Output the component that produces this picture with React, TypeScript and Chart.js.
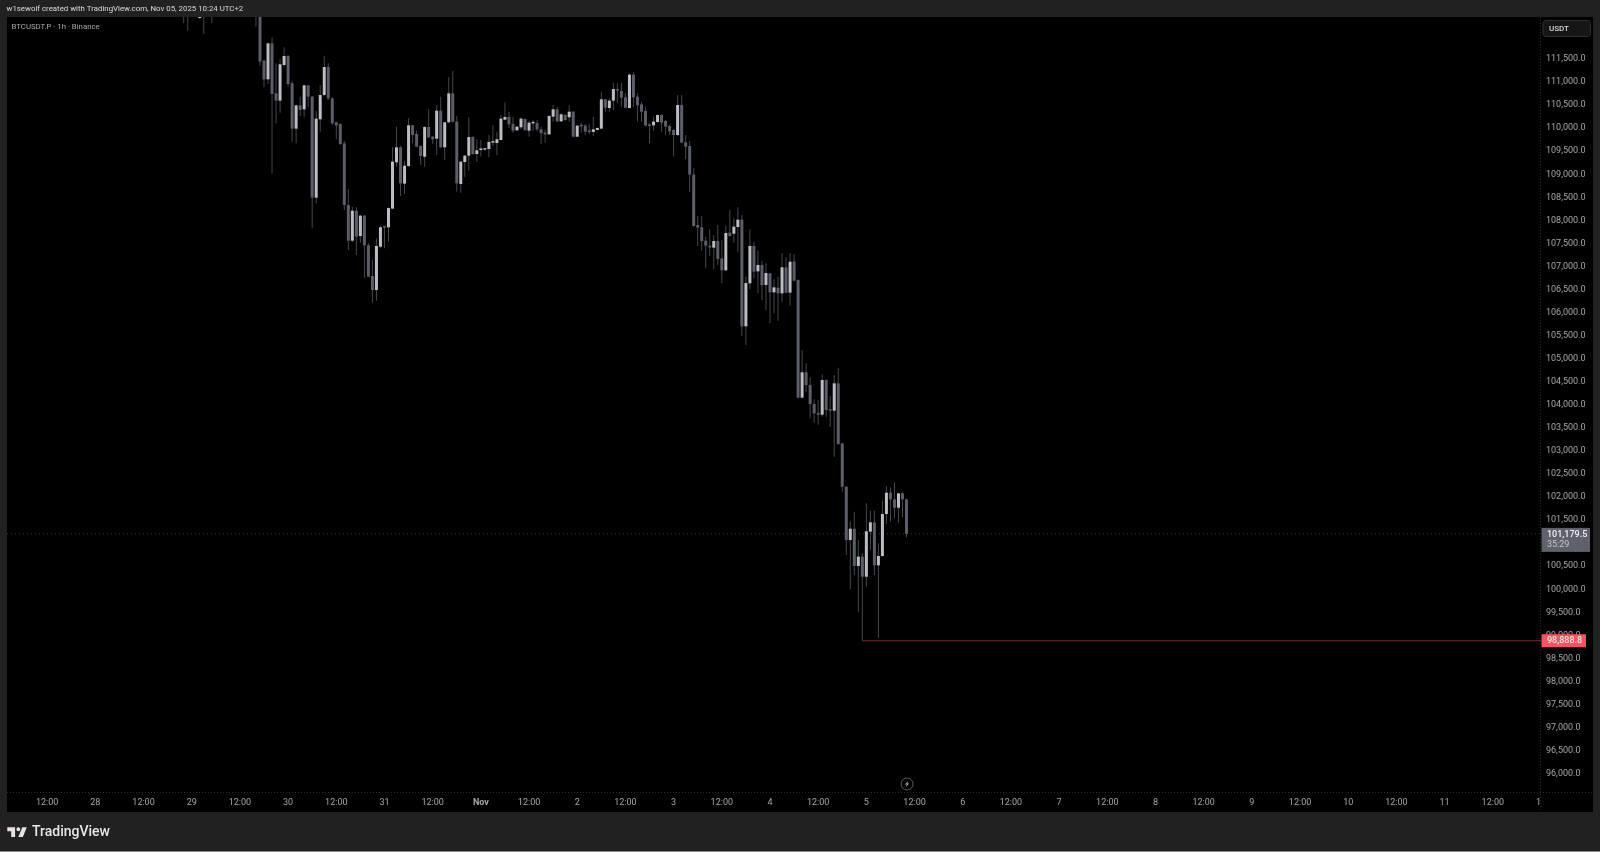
import React, { useEffect, useRef } from "react";
import { Chart, registerables } from "chart.js";

Chart.register(...registerables);

// hour index of the first candle; hour 0 = Oct 27 12:00
const firstHour = 34;

const opens = [
  112800,112650,112700,112620,112368,112750,112650,112780,112700,112800,112900,113000,112900,113050,113150,113050,113200,113100,113000,
  112800,111442,111037,111818,110734,110575,111348,111543,110951,109967,110473,110387,110907,110661,108471,110170,110698,111305,110625,110105,
  110069,109649,108312,107538,108189,107640,108081,107437,106772,106469,107408,107842,107828,108233,109237,109563,108775,109158,110040,109852,
  109592,109360,110004,109794,109751,110358,109563,110105,110734,110120,108768,109245,109382,109787,109418,109505,109512,109527,109664,109657,
  109722,110163,110221,110069,109932,109997,110177,109924,110083,110091,109953,109881,109845,110228,110387,110127,110264,110214,110336,109794,
  110033,110033,109917,109896,109939,109968,110604,110416,110575,110821,110785,110647,110416,111139,110662,110496,110351,110047,110040,110112,
  110264,110134,110026,109939,109830,110481,109671,109592,108970,107878,107828,107538,107423,107387,107531,107155,106895,107712,107690,107835,
  107994,105681,106613,107423,106873,107011,106577,106830,106418,106519,106396,106960,106411,107083,106685,104133,104683,104408,103996,103794,
  103765,104516,103880,103851,104444,103143,102203,101047,101292,100483,100685,100251,101227,101430,100497,100700,101610,102073,101928,101748,
  102059,101928,
];
const highs = [
  112900,112800,112800,112850,112850,112850,112850,112900,112850,112950,113050,113100,113100,113200,113250,113300,113300,113200,113100,
  113000,111457,111833,111948,111384,111471,111731,111565,111008,110488,110661,110922,110922,110676,110358,110914,111551,111384,110647,110119,
  110083,109707,108652,108276,108261,108095,108095,107481,107119,107589,107857,107857,108261,109563,110011,109592,109273,110192,110054,109924,
  109606,110018,110394,109809,110481,110662,110120,111081,111218,110243,109267,109397,110214,109802,109737,109722,109549,109830,110040,109903,
  110264,110539,110336,110228,110026,110214,110192,110134,110156,110156,110011,109939,110257,110481,110445,110300,110286,110481,110351,110047,
  110098,110069,110062,110228,109997,110770,110618,110626,110965,110951,110965,110734,111168,111197,110734,110553,110445,110083,110228,110279,
  110279,110156,110047,109953,110698,110698,109830,109700,109107,108073,108073,107625,107784,107661,107878,107553,107857,108204,108023,108261,
  108095,106758,107784,107517,107322,107105,107047,106844,106700,106758,107264,107177,107264,107249,106700,105167,104878,104574,104097,104083,
  104639,104531,104170,104625,104784,103157,102218,101444,101661,101047,100757,101842,101683,101683,100974,101900,102218,102189,102297,102073,
  102080,101943,
];
const lows = [
  112252,112093,112560,112570,112340,112020,112600,112252,112650,112750,112850,112850,112850,113000,113000,113000,113050,112950,112180,
  111327,110864,110936,109000,110083,110314,111312,110878,109678,109649,110242,110228,110445,107806,108348,109902,110676,110589,110047,109736,
  109613,108204,107336,107517,107228,107495,106736,106743,106194,106237,107372,107372,107517,108218,109143,108507,108551,109143,109649,109563,
  109180,109143,109765,109635,109397,109541,109288,110083,110098,108602,108580,108912,109057,109397,109252,109361,109491,109346,109592,109397,
  109708,110149,109975,109881,109917,109953,109924,109794,109924,109910,109635,109664,109830,110120,110112,110112,110141,110120,109780,109780,
  109881,109830,109852,109809,109924,109953,110336,110336,110373,110517,110445,110409,110402,110445,110120,110120,110018,109650,109924,110098,
  109903,109830,109830,109361,109816,109649,109302,108601,107842,107423,107322,106938,107206,106917,107011,106613,106881,107625,107495,107300,
  105471,105276,106483,106722,106396,106252,106035,105746,105963,105803,106215,106396,106129,106656,104119,104119,104263,103685,103591,103548,
  103721,103721,103504,102854,103107,102095,100721,99977,100288,99492,98862,100034,100830,100288,98914,100685,101394,101444,101516,101423,
  101538,101104,
];
const closes = [
  112650,112700,112620,112780,112750,112650,112780,112700,112800,112900,113000,112900,113050,113150,113050,113200,113100,113000,112800,
  111421,111037,111818,110719,110575,111363,111543,110936,109967,110473,110372,110907,110661,108471,110184,110698,111305,110625,110083,110033,
  109635,108312,107538,108189,107625,108081,107437,106758,106469,107423,107828,107820,108247,109252,109563,108782,109165,110040,109830,109577,
  109375,110004,109779,109737,110358,109563,110105,110734,110120,108782,109252,109382,109787,109418,109498,109527,109534,109679,109686,109737,
  110185,110221,110062,109924,110011,110185,109932,110098,110105,109953,109867,109845,110243,110387,110127,110279,110156,110336,109794,110033,
  110018,109903,109896,109953,109982,110604,110423,110575,110828,110792,110640,110423,111139,110647,110474,110336,110033,110026,110120,110264,
  110098,110011,109910,109830,110481,109664,109577,108970,107857,107820,107531,107430,107394,107531,107141,106895,107705,107640,107842,107994,
  105681,106620,107423,106866,107011,106577,106837,106418,106526,106396,106960,106411,107083,106671,104133,104683,104408,103996,103794,103765,
  104516,103866,103851,104444,103129,102203,101047,101292,100483,100685,100251,101235,101430,100497,100700,101610,102073,101928,101748,102059,
  101928,101179.5,
];

const lastPrice = 101179.5;
const lowMarkPrice = 98862;
const lowMarkHour = 203;
const sessionIconHour = 214;
const lastPriceText = "101,179.5";
const countdownText = "35:29";
const lowMarkText = "98,888.8";

const xTickLabels = [
  "12:00","28","12:00","29","12:00","30","12:00","31","12:00","Nov","12:00","2","12:00","3","12:00","4",
  "12:00","5","12:00","6","12:00","7","12:00","8","12:00","9","12:00","10","12:00","11","12:00","12",
];
const yTickValues = [
  96000,96500,97000,97500,98000,98500,99000,99500,100000,100500,101000,101500,102000,102500,103000,103500,
  104000,104500,105000,105500,106000,106500,107000,107500,108000,108500,109000,109500,110000,110500,111000,111500,
];

const headerText = "w1sewolf created with TradingView.com, Nov 05, 2025 10:24 UTC+2";
const symbolText = "BTCUSDT.P · 1h · Binance";

const UP = "#bcbdc2";
const DOWN = "#5b5e68";
const WICK = "#45474e";
const FONT = "Roboto";

const hours = opens.map((_, i) => firstHour + i);

const chrome = {
  id: "chrome",
  beforeDraw(chart: any) {
    const c = chart.ctx;
    c.save();
    c.fillStyle = "#212121";
    c.fillRect(0, 0, 1600, 852);
    c.fillStyle = "#000000";
    c.fillRect(7, 17, 1586, 795);
    c.fillStyle = "#8a8a8a";
    c.fillRect(0, 851, 1600, 1);
    c.restore();
  },
  afterDraw(chart: any) {
    const c = chart.ctx;
    const y = chart.scales.y;
    const x = chart.scales.x;
    c.save();
    c.textBaseline = "middle";
    c.textAlign = "left";

    // the last time label is cut off by the price pane
    c.fillStyle = "#000000";
    c.fillRect(1541, 794, 52, 18);

    c.strokeStyle = "#2b2b2b";
    c.lineWidth = 1;
    c.setLineDash([1, 2]);
    c.beginPath();
    c.moveTo(1540.5, 17);
    c.lineTo(1540.5, 812);
    c.moveTo(7, 792.5);
    c.lineTo(1593, 792.5);
    c.stroke();
    c.setLineDash([]);

    // header and symbol line
    c.font = `400 7.85px ${FONT}`;
    c.fillStyle = "#dcdcdc";
    c.fillText(headerText, 6.5, 9.5);
    c.font = `7.8px ${FONT}`;
    c.fillStyle = "#a8a8ac";
    c.fillText(symbolText, 11.5, 27);

    // currency button
    c.fillStyle = "#161616";
    c.strokeStyle = "#303030";
    c.beginPath();
    c.roundRect(1543, 20.5, 47.5, 16, 3);
    c.fill();
    c.stroke();
    c.font = `500 8px ${FONT}`;
    c.fillStyle = "#d8d8d8";
    c.fillText("USDT", 1549, 28.5);

    // last price label
    const ly = y.getPixelForValue(lastPrice);
    c.fillStyle = "#5f626c";
    c.fillRect(1541.5, ly - 6, 48.5, 24);
    c.font = `500 9px ${FONT}`;
    c.fillStyle = "#f0f0f0";
    c.fillText(lastPriceText, 1547, ly + 0.5);
    c.font = `9px ${FONT}`;
    c.fillStyle = "#c4c4c8";
    c.fillText(countdownText, 1547, ly + 11);

    // low mark label
    const ry = y.getPixelForValue(lowMarkPrice);
    c.fillStyle = "#f7525f";
    c.fillRect(1541.5, ry - 6.5, 44.5, 13);
    c.font = `500 9px ${FONT}`;
    c.fillStyle = "#f4e4e6";
    c.fillText(lowMarkText, 1547, ry + 0.5);

    // session icon
    const ix = x.getPixelForValue(sessionIconHour);
    c.strokeStyle = "#5a5a5e";
    c.lineWidth = 1;
    c.beginPath();
    c.arc(ix + 0.5, 784, 6, 0, Math.PI * 2);
    c.stroke();
    c.fillStyle = "#a8a8a8";
    c.beginPath();
    c.moveTo(ix + 2, 780.5);
    c.lineTo(ix - 1.5, 784.6);
    c.lineTo(ix + 0.3, 784.6);
    c.lineTo(ix - 1, 787.5);
    c.lineTo(ix + 2.5, 783.4);
    c.lineTo(ix + 0.7, 783.4);
    c.closePath();
    c.fill();

    // footer brand
    c.save();
    c.translate(6, 823.4);
    c.scale(0.65, 0.65);
    c.fillStyle = "#e8e0e2";
    c.fill(new Path2D("M14 6H2v6h6v9h6V6zm12 15h-7l6-15h7l-6 15zm-7-9a3 3 0 1 0 0-6 3 3 0 0 0 0 6z"));
    c.restore();
    c.font = `500 14px ${FONT}`;
    c.fillStyle = "#e6e6e6";
    c.fillText("TradingView", 32, 832.5);
    c.restore();
  },
};

export default function App() {
  const ref = useRef<HTMLCanvasElement>(null);

  useEffect(() => {
    const chart = new Chart(ref.current as any, {
      type: "bar",
      data: {
        datasets: [
          {
            type: "line",
            order: 4,
            data: [{ x: -11, y: lastPrice }, { x: 372, y: lastPrice }],
            borderColor: "#3e4046",
            borderWidth: 1,
            borderDash: [1, 3],
            pointRadius: 0,
          },
          {
            type: "bar",
            order: 3,
            grouped: false,
            barThickness: 1,
            inflateAmount: 0,
            data: hours.map((h, i) => ({ x: h, y: [lows[i], highs[i]] })),
            backgroundColor: WICK,
            borderWidth: 0,
          },
          {
            type: "bar",
            order: 2,
            grouped: false,
            barThickness: 3,
            inflateAmount: 0,
            minBarLength: 1.5,
            data: hours.map((h, i) => ({ x: h, y: [opens[i], closes[i]] })),
            backgroundColor: hours.map((_, i) => (closes[i] >= opens[i] ? UP : DOWN)),
            borderWidth: 0,
          },
          {
            type: "line",
            order: 1,
            data: [{ x: lowMarkHour, y: lowMarkPrice }, { x: 372, y: lowMarkPrice }],
            borderColor: "#7c2631",
            borderWidth: 1,
            pointRadius: 0,
          },
        ] as any,
      },
      options: {
        animation: false,
        responsive: false,
        devicePixelRatio: 1,
        events: [],
        layout: { padding: { left: 7, top: 17, right: 7, bottom: 40 } },
        plugins: { legend: { display: false }, tooltip: { enabled: false }, title: { display: false } },
        scales: {
          x: {
            type: "linear",
            position: "bottom",
            offset: false,
            bounds: "data",
            min: -10,
            max: 372,
            grid: { display: false, drawTicks: false, offset: false },
            border: { display: false },
            afterFit: (s: any) => { s.height = 19; },
            afterBuildTicks: (s: any) => { s.ticks = xTickLabels.map((_, i) => ({ value: i * 12 })); },
            ticks: {
              autoSkip: false,
              maxRotation: 0,
              padding: 4,
              color: "#a6a6a6",
              font: (ctx: any) => ({
                family: FONT,
                size: 9,
                weight: xTickLabels[ctx.index] === "Nov" ? "bold" : "normal",
              }),
              callback: (_v: any, i: number) => xTickLabels[i],
            },
          },
          y: {
            type: "linear",
            position: "right",
            beginAtZero: false,
            bounds: "data",
            min: 95560,
            max: 112389,
            grid: { display: false, drawTicks: false },
            border: { display: false },
            afterFit: (s: any) => { s.width = 52; },
            afterBuildTicks: (s: any) => { s.ticks = yTickValues.map((value) => ({ value })); },
            ticks: {
              autoSkip: false,
              padding: 5,
              labelOffset: 1,
              color: "#a6a6a6",
              font: { family: FONT, size: 9 },
              callback: (v: any) =>
                Number(v).toLocaleString("en-US", { minimumFractionDigits: 1, maximumFractionDigits: 1 }),
            },
          },
        },
      } as any,
      plugins: [chrome as any],
    });
    return () => chart.destroy();
  }, []);

  return (
    <canvas
      ref={ref}
      width={1600}
      height={852}
      style={{ position: "fixed", left: 0, top: 0, width: 1600, height: 852, display: "block" }}
    />
  );
}
